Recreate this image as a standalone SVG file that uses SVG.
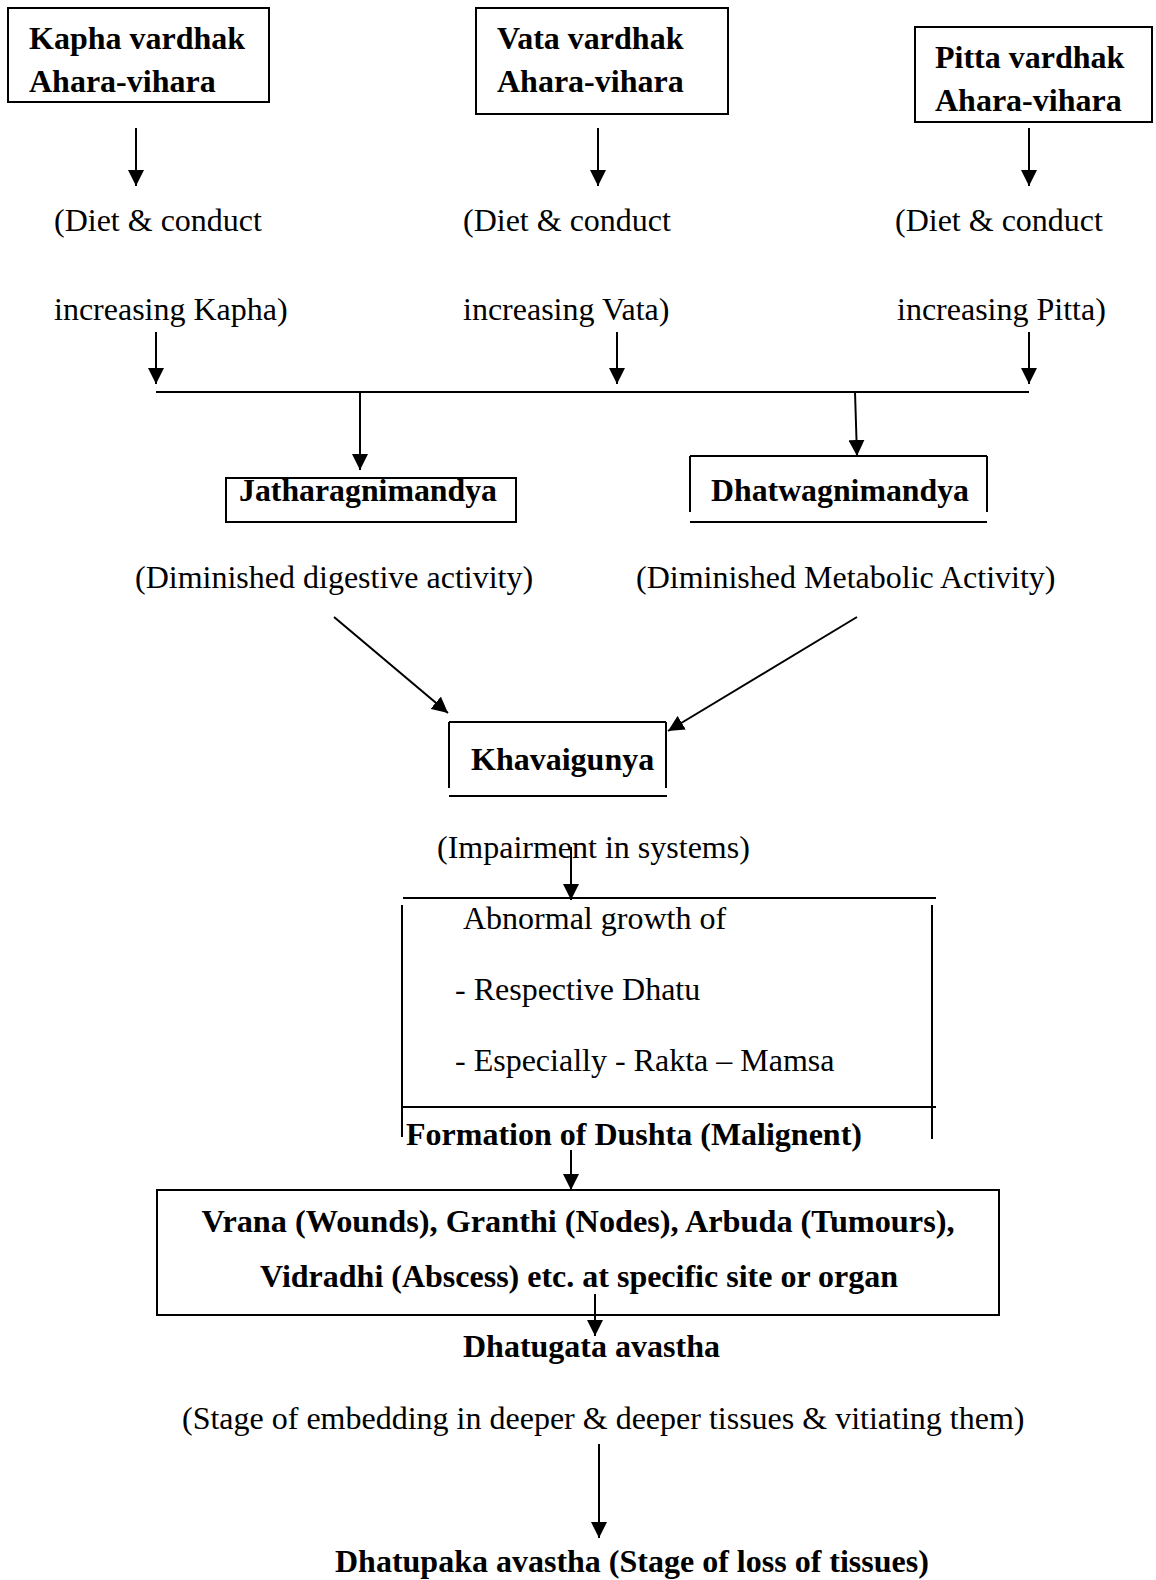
<svg xmlns="http://www.w3.org/2000/svg" width="1156" height="1580" viewBox="0 0 1156 1580">
<style>
.bx{fill:none;stroke:#000;stroke-width:2}
.ln{fill:none;stroke:#000;stroke-width:2}
.b{font-family:"Liberation Serif","Times New Roman",serif;font-weight:bold;font-size:32px;fill:#000}
.r{font-family:"Liberation Serif","Times New Roman",serif;font-size:32px;fill:#000}
</style>
<defs>
<marker id="ah" viewBox="0 0 16 16" refX="16" refY="8" markerWidth="16" markerHeight="16" orient="auto" markerUnits="userSpaceOnUse">
<path d="M0,0 L16,8 L0,16 z" fill="#000"/>
</marker>
</defs>
<rect width="1156" height="1580" fill="#fff"/>
<g id="kapha">
<rect class="bx" x="8" y="8" width="261" height="94"/>
<text class="b" x="29" y="49">Kapha vardhak</text>
<text class="b" x="29" y="92">Ahara-vihara</text>
</g>
<g id="vata">
<rect class="bx" x="476" y="8" width="252" height="106"/>
<text class="b" x="497" y="49">Vata vardhak</text>
<text class="b" x="497" y="92">Ahara-vihara</text>
</g>
<g id="pitta">
<rect class="bx" x="915" y="27" width="237" height="95"/>
<text class="b" x="935" y="68">Pitta vardhak</text>
<text class="b" x="935" y="111">Ahara-vihara</text>
</g>
<g id="kapha-desc">
<text class="r" x="54" y="231">(Diet &amp; conduct</text>
<text class="r" x="54" y="320">increasing Kapha)</text>
</g>
<g id="vata-desc">
<text class="r" x="463" y="231">(Diet &amp; conduct</text>
<text class="r" x="463" y="320">increasing Vata)</text>
</g>
<g id="pitta-desc">
<text class="r" x="895" y="231">(Diet &amp; conduct</text>
<text class="r" x="897" y="320">increasing Pitta)</text>
</g>
<g id="jatharagni">
<rect class="bx" x="226" y="478" width="290" height="44"/>
<text class="b" x="239" y="501" textLength="258" lengthAdjust="spacingAndGlyphs">Jatharagnimandya</text>
<text class="r" x="135" y="588">(Diminished digestive activity)</text>
</g>
<g id="dhatwagni">
<path class="ln" d="M690,456 H987 M690,456 V512 M987,456 V512"/>
<path class="ln" d="M690,522 H987" stroke-width="3"/>
<text class="b" x="711" y="501" textLength="258" lengthAdjust="spacingAndGlyphs">Dhatwagnimandya</text>
<text class="r" x="636" y="588">(Diminished Metabolic Activity)</text>
</g>
<g id="khavaigunya">
<path class="ln" d="M449,722 H666 M449,722 V788 M666,722 V788"/>
<path class="ln" d="M449,796 H667"/>
<text class="b" x="471" y="770">Khavaigunya</text>
<text class="r" x="437" y="858">(Impairment in systems)</text>
</g>
<g id="abnormal">
<path class="ln" d="M403,898 H936 M402,905 V1137 M932,905 V1139 M403,1107 H936"/>
<text class="r" x="463" y="929">Abnormal growth of</text>
<text class="r" x="455" y="1000">- Respective Dhatu</text>
<text class="r" x="455" y="1071">- Especially - Rakta – Mamsa</text>
<text class="b" x="406" y="1145">Formation of Dushta (Malignent)</text>
</g>
<g id="vrana">
<rect class="bx" x="157" y="1190" width="842" height="125"/>
<text class="b" x="578" y="1232" text-anchor="middle" textLength="753" lengthAdjust="spacingAndGlyphs">Vrana (Wounds), Granthi (Nodes), Arbuda (Tumours),</text>
<text class="b" x="579" y="1287" text-anchor="middle" textLength="638" lengthAdjust="spacingAndGlyphs">Vidradhi (Abscess) etc. at specific site or organ</text>
</g>
<g id="dhatugata">
<text class="b" x="463" y="1357">Dhatugata avastha</text>
<text class="r" x="182" y="1429">(Stage of embedding in deeper &amp; deeper tissues &amp; vitiating them)</text>
</g>
<g id="dhatupaka">
<text class="b" x="335" y="1572">Dhatupaka avastha (Stage of loss of tissues)</text>
</g>
<g id="connectors">
<line class="ln" x1="136" y1="128" x2="136" y2="186" marker-end="url(#ah)"/>
<line class="ln" x1="598" y1="128" x2="598" y2="186" marker-end="url(#ah)"/>
<line class="ln" x1="1029" y1="128" x2="1029" y2="186" marker-end="url(#ah)"/>
<line class="ln" x1="156" y1="332" x2="156" y2="384" marker-end="url(#ah)"/>
<line class="ln" x1="617" y1="332" x2="617" y2="384" marker-end="url(#ah)"/>
<line class="ln" x1="1029" y1="332" x2="1029" y2="384" marker-end="url(#ah)"/>
<line class="ln" x1="156" y1="392" x2="1029" y2="392"/>
<line class="ln" x1="360" y1="392" x2="360" y2="470" marker-end="url(#ah)"/>
<line class="ln" x1="855" y1="392" x2="857" y2="456" marker-end="url(#ah)"/>
<line class="ln" x1="334" y1="617" x2="448" y2="713" marker-end="url(#ah)"/>
<line class="ln" x1="857" y1="617" x2="668" y2="731" marker-end="url(#ah)"/>
<line class="ln" x1="571" y1="847" x2="571" y2="900" marker-end="url(#ah)"/>
<line class="ln" x1="571" y1="1150" x2="571" y2="1190" marker-end="url(#ah)"/>
<line class="ln" x1="595" y1="1294" x2="595" y2="1336" marker-end="url(#ah)"/>
<line class="ln" x1="599" y1="1444" x2="599" y2="1538" marker-end="url(#ah)"/>
</g>
</svg>
